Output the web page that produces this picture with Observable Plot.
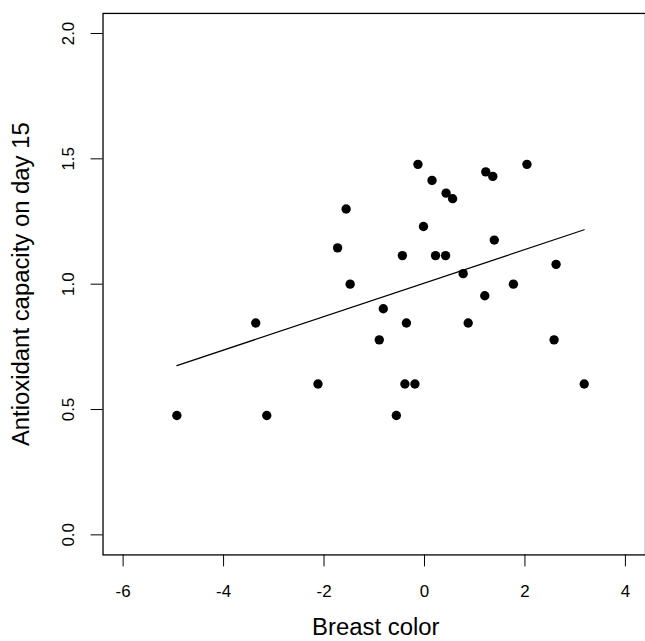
<!DOCTYPE html>
<html>
<head>
<meta charset="utf-8">
<script src="https://cdn.jsdelivr.net/npm/d3@7"></script>
<script src="https://cdn.jsdelivr.net/npm/@observablehq/plot@0.6"></script>
<style>
  html, body { margin: 0; padding: 0; background: #fff; overflow: hidden; }
  #chart svg { display: block; }
</style>
</head>
<body>
<div id="chart"></div>
<script>
const breastColor = [-4.93, -3.36, -3.14, -2.12, -1.73, -1.56, -1.48, -0.90, -0.82, -0.56, -0.44, -0.39, -0.36, -0.19, -0.13, -0.02, 0.15, 0.22, 0.42, 0.43, 0.56, 0.77, 0.87, 1.20, 1.22, 1.36, 1.39, 1.77, 2.04, 2.58, 2.62, 3.18];
const antioxidant = [0.476, 0.845, 0.476, 0.602, 1.145, 1.30, 1.0, 0.778, 0.902, 0.476, 1.114, 0.602, 0.845, 0.602, 1.478, 1.230, 1.414, 1.114, 1.114, 1.363, 1.341, 1.042, 0.845, 0.954, 1.448, 1.430, 1.176, 1.0, 1.478, 0.778, 1.079, 0.602];
const fitX = [-4.93, 3.18];
const fitY = [0.675, 1.217];
const xTicks = [-6, -4, -2, 0, 2, 4];
const yTicks = [0, 0.5, 1, 1.5, 2];
const xTitle = "Breast color";
const yTitle = "Antioxidant capacity on day 15";

const points = breastColor.map((x, i) => ({x, y: antioxidant[i]}));
const fit = fitX.map((x, i) => ({x, y: fitY[i]}));

const font = "Liberation Sans, Arial, Helvetica, sans-serif";

const chart = Plot.plot({
  width: 648,
  height: 641,
  marginLeft: 103,
  marginRight: 0,
  marginTop: 13,
  marginBottom: 84,
  style: {fontFamily: font, background: "#fff", color: "#000"},
  x: {domain: [-6.4, 4.4]},
  y: {domain: [-0.08, 2.08]},
  marks: [
    Plot.frame({stroke: "#000", strokeWidth: 1.3}),
    Plot.axisX(xTicks, {tickSize: 12, tickPadding: 18, fontSize: 17, label: null, strokeWidth: 1, tickFormat: d => String(d)}),
    Plot.axisY(yTicks, {tickSize: 12, text: null, label: null, strokeWidth: 1}),
    Plot.text(yTicks, {y: d => d, frameAnchor: "left", dx: -34.6, rotate: -90, text: d => d.toFixed(1), fontSize: 17, textAnchor: "middle", lineAnchor: "middle"}),
    Plot.text([xTitle], {frameAnchor: "bottom", dy: 72.5, dx: 1.5, text: d => d, fontSize: 24, textAnchor: "middle", lineAnchor: "middle"}),
    Plot.text([yTitle], {frameAnchor: "left", dx: -81.7, rotate: -90, text: d => d, fontSize: 24, textAnchor: "middle", lineAnchor: "middle"}),
    Plot.line(fit, {x: "x", y: "y", stroke: "#000", strokeWidth: 1.2}),
    Plot.dot(points, {x: "x", y: "y", r: 4.7, fill: "#000", stroke: "none"})
  ]
});
document.getElementById("chart").appendChild(chart);
</script>
</body>
</html>
